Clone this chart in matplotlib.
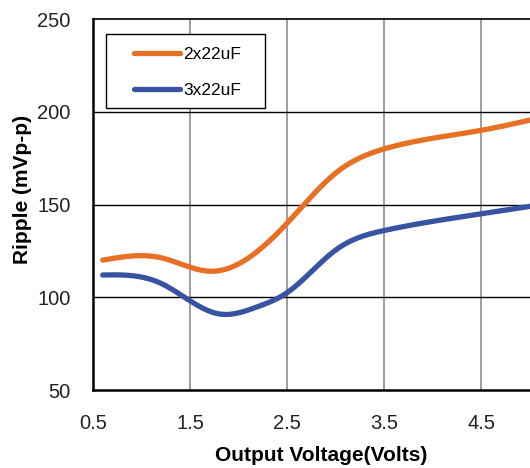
import numpy as np
import matplotlib
matplotlib.use("Agg")
import matplotlib.pyplot as plt
from matplotlib.patches import Rectangle

plt.rcParams["font.family"] = ["Liberation Sans", "DejaVu Sans"]

x_2x22 = [0.6, 1.2, 1.72, 2.5, 3.0, 3.5, 4.5, 5.0]
y_2x22 = [120, 121.3, 114, 140, 167, 180, 190, 195.5]
x_3x22 = [0.6, 1.2, 1.8, 2.2, 2.5, 3.0, 3.5, 4.5, 5.0]
y_3x22 = [112, 107.5, 91, 95, 102.5, 125.5, 136, 145, 149]

x_ticks = [0.5, 1.5, 2.5, 3.5, 4.5]
y_ticks = [50, 100, 150, 200, 250]


def smooth(xs, ys, n=40):
    # natural cubic spline through the points
    xs = np.asarray(xs, float)
    ys = np.asarray(ys, float)
    k = len(xs)
    h = np.diff(xs)
    A = np.zeros((k, k))
    b = np.zeros(k)
    A[0, 0] = A[-1, -1] = 1
    for i in range(1, k - 1):
        A[i, i - 1] = h[i - 1]
        A[i, i] = 2 * (h[i - 1] + h[i])
        A[i, i + 1] = h[i]
        b[i] = 6 * ((ys[i + 1] - ys[i]) / h[i] - (ys[i] - ys[i - 1]) / h[i - 1])
    M = np.linalg.solve(A, b)
    out_x, out_y = [], []
    t = np.linspace(0, 1, n)
    for i in range(k - 1):
        xx = xs[i] + t * h[i]
        a = xs[i + 1] - xx
        c = xx - xs[i]
        yy = (M[i] * a**3 + M[i + 1] * c**3) / (6 * h[i]) \
            + (ys[i] / h[i] - M[i] * h[i] / 6) * a \
            + (ys[i + 1] / h[i] - M[i + 1] * h[i] / 6) * c
        out_x.extend(xx)
        out_y.extend(yy)
    return out_x, out_y


fig = plt.figure(figsize=(5.30, 4.68), dpi=100)
ax = fig.add_axes([93 / 530, 1 - 390 / 468, 1 - 93 / 530, (390 - 19) / 468])

sx, sy = smooth(x_2x22, y_2x22)
ax.plot(sx, sy, color="#E87025", lw=3.8, label="2x22uF", solid_capstyle="round")
sx, sy = smooth(x_3x22, y_3x22)
ax.plot(sx, sy, color="#3953A4", lw=3.8, label="3x22uF", solid_capstyle="round")

ax.set_xlim(0.5, 5.0)
ax.set_ylim(50, 250)
ax.set_xticks(x_ticks)
ax.set_xticklabels([str(v) for v in x_ticks])
ax.set_yticks(y_ticks)
ax.tick_params(length=0, labelsize=14.5, colors="#222222", pad=16)
ax.tick_params(axis="x", pad=17)

for v in x_ticks[1:]:
    ax.axvline(v, color="#8c8c8c", lw=1.2, zorder=0)
for v in y_ticks[1:-1]:
    ax.axhline(v, color="black", lw=1.0, zorder=0)

ax.spines["right"].set_visible(False)
for s in ["left", "bottom"]:
    ax.spines[s].set_linewidth(1.8)
ax.spines["top"].set_linewidth(1.2)

ax.set_xlabel("Output Voltage(Volts)", fontsize=15, fontweight="bold", labelpad=12)
ax.xaxis.set_label_coords(0.522, -0.15)
ax.set_ylabel("Ripple (mVp-p)", fontsize=15, fontweight="bold")
ax.yaxis.set_label_coords(-0.14, 0.54)

# legend box drawn separately so the padding can differ per side
ax.add_patch(
    Rectangle((0.0297, 0.760), 0.364, 0.1995, transform=ax.transAxes,
              facecolor="white", edgecolor="black", lw=1.0, zorder=3)
)
leg = ax.legend(
    loc="upper left",
    bbox_to_anchor=(0.0938, 0.924),
    frameon=False,
    fontsize=12.5,
    handlelength=2.65,
    handletextpad=0.17,
    labelspacing=1.2,
    borderpad=0,
    borderaxespad=0,
)
leg.set_zorder(4)

fig.savefig("out.png", dpi=100)
